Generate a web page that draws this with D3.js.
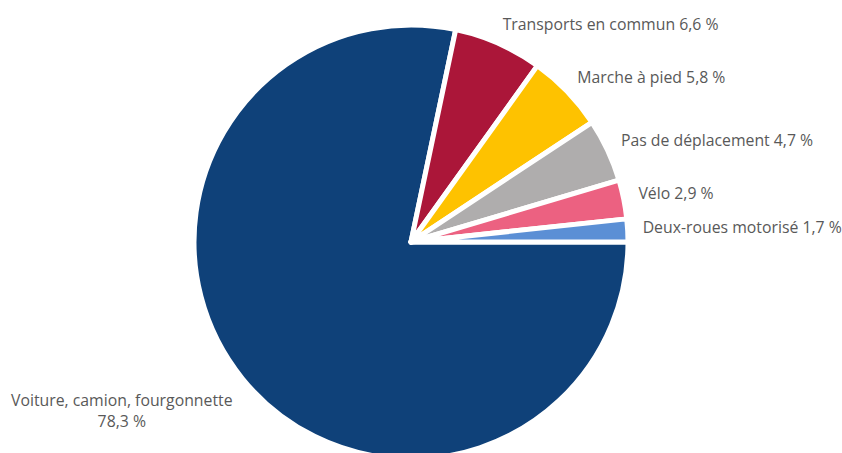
<!DOCTYPE html>
<html lang="fr">
<head>
    <meta charset="UTF-8">
    <title>Modes de transport</title>
    <script src="https://d3js.org/d3.v7.min.js"></script>
    <style>
        body { margin: 0; background: #fff; overflow: hidden; }
        text { font-family: "Open Sans", sans-serif; font-size: 15.8px; fill: #595959; }
    </style>
</head>
<body>
    <script>
        const width = 842;
        const height = 453;

        // data
        const categories = ["Voiture, camion, fourgonnette", "Transports en commun", "Marche à pied",
                            "Pas de déplacement", "Vélo", "Deux-roues motorisé"];
        const values = [78.3, 6.6, 5.8, 4.7, 2.9, 1.7];
        const colors = ["#0f4179", "#ab1639", "#fec200", "#afadad", "#ec6181", "#5b8fd5"];

        const data = categories.map((c, i) => ({ name: c, value: values[i], color: colors[i] }));

        const cx = 411, cy = 242, radius = 217;

        const svg = d3.select("body").append("svg")
            .attr("width", width)
            .attr("height", height);

        const g = svg.append("g").attr("transform", `translate(${cx},${cy})`);

        // starts at 3 o'clock, clockwise
        const pie = d3.pie()
            .sort(null)
            .value(d => d.value)
            .startAngle(Math.PI / 2)
            .endAngle(Math.PI / 2 + 2 * Math.PI);

        const arcs = pie(data);

        const arc = d3.arc().innerRadius(0).outerRadius(radius);
        const labelArc = d3.arc().innerRadius(radius + 18).outerRadius(radius + 18);

        g.selectAll("path.slice")
            .data(arcs)
            .enter().append("path")
            .attr("class", "slice")
            .attr("d", arc)
            .attr("fill", d => d.data.color)
            .attr("stroke", "#fff")
            .attr("stroke-width", 5)
            .attr("stroke-linejoin", "round");

        const fmt = v => d3.format(".1f")(v).replace(".", ",") + " %";

        arcs.forEach((d, i) => {
            const [x, y] = labelArc.centroid(d);
            const mid = (d.startAngle + d.endAngle) / 2;
            const right = Math.sin(mid) > 0;
            if (right) {
                g.append("text")
                    .attr("x", x - 3)
                    .attr("y", y - 2)
                    .attr("dy", "0.35em")
                    .attr("text-anchor", "start")
                    .text(d.data.name + " " + fmt(d.data.value));
            } else {
                // two lines, centred on each other, right edge at the anchor
                const t = g.append("text").attr("text-anchor", "middle");
                const l1 = t.append("tspan").text(d.data.name);
                const w = l1.node().getComputedTextLength();
                const mx = x + 4 - w / 2;
                l1.attr("x", mx).attr("y", y + 16);
                t.append("tspan").attr("x", mx).attr("y", y + 37).text(fmt(d.data.value));
            }
        });
    </script>
</body>
</html>
